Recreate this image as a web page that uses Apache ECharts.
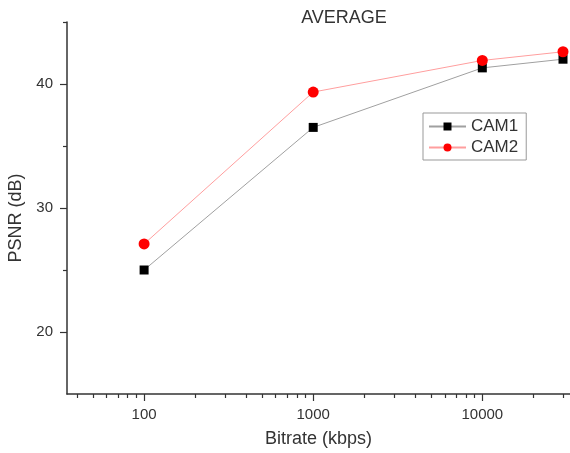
<!DOCTYPE html>
<html>
<head>
<meta charset="utf-8">
<title>AVERAGE</title>
<script src="https://cdn.jsdelivr.net/npm/echarts@6/dist/echarts.min.js"></script>
<style>
  html, body { margin: 0; padding: 0; background: #fff; }
  #chart { width: 570px; height: 453px; }
</style>
</head>
<body>
<div id="chart"></div>
<script>
  // bitrate in kbps, PSNR in dB
  const bitrates = [100, 1000, 10000, 30000];
  const cam1 = [25.0, 36.5, 41.3, 42.0];
  const cam2 = [27.1, 39.35, 41.9, 42.6];

  const xMinorTicks = [40, 50, 60, 70, 80, 90, 200, 300, 400, 500, 600, 700, 800, 900,
    2000, 3000, 4000, 5000, 6000, 7000, 8000, 9000, 20000, 30000];
  const yMajorTicks = [20, 30, 40];
  const yMinorTicks = [25, 35, 45];

  const xMin = 35;
  const xMax = 33000;
  const yMin = 15;
  const yMax = 45;

  const font = '"Liberation Sans", Arial, sans-serif';
  const axisColor = '#333';

  const chart = echarts.init(document.getElementById('chart'));

  const option = {
    animation: false,
    title: {
      text: 'AVERAGE',
      left: 339,
      top: 4,
      textAlign: 'center',
      textStyle: { fontFamily: font, fontSize: 18, fontWeight: 'normal', color: '#333' },
    },
    legend: {
      left: 423,
      top: 113,
      orient: 'vertical',
      padding: [5, 8, 4, 5],
      itemWidth: 37,
      itemHeight: 10,
      itemGap: 4,
      borderColor: '#999',
      borderWidth: 1,
      textStyle: { fontFamily: font, fontSize: 17, color: '#333' },
      data: ['CAM1', 'CAM2'],
    },
    grid: { left: 67, right: 0, top: 22, bottom: 59, outerBoundsMode: 'none' },
    xAxis: [
      {
        type: 'log',
        logBase: 10,
        min: xMin,
        max: xMax,
        name: 'Bitrate (kbps)',
        nameLocation: 'middle',
        nameGap: 36,
        nameTextStyle: { fontFamily: font, fontSize: 18, color: '#333' },
        axisLine: { lineStyle: { color: axisColor, width: 1.5 } },
        axisTick: { inside: false, length: 7, lineStyle: { color: axisColor, width: 1.2 } },
        axisLabel: {
          fontFamily: font,
          fontSize: 15,
          color: '#333',
          margin: 13,
          showMinLabel: false,
          showMaxLabel: false,
          formatter: v => String(Math.round(v)),
        },
        splitLine: { show: false },
      },
      {
        // minor ticks, placed in log10 space
        type: 'value',
        position: 'bottom',
        min: Math.log10(xMin),
        max: Math.log10(xMax),
        axisLine: { show: false },
        axisLabel: { show: false },
        axisTick: {
          length: 4,
          customValues: xMinorTicks.map(v => Math.log10(v)),
          lineStyle: { color: axisColor, width: 1.2 },
        },
        splitLine: { show: false },
      },
    ],
    yAxis: [
      {
        type: 'value',
        min: yMin,
        max: yMax,
        name: 'PSNR (dB)',
        nameLocation: 'middle',
        nameGap: 39,
        nameTextStyle: { fontFamily: font, fontSize: 18, color: '#333', padding: [0, 20, 0, 0] },
        axisLine: { show: true, lineStyle: { color: axisColor, width: 1.5 } },
        axisTick: {
          show: true,
          length: 7,
          customValues: yMajorTicks,
          lineStyle: { color: axisColor, width: 1.2 },
        },
        axisLabel: {
          fontFamily: font,
          fontSize: 15,
          color: '#333',
          margin: 14,
          customValues: yMajorTicks,
        },
        splitLine: { show: false },
      },
      {
        type: 'value',
        position: 'left',
        min: yMin,
        max: yMax,
        axisLine: { show: false },
        axisLabel: { show: false },
        axisTick: {
          show: true,
          length: 4,
          customValues: yMinorTicks,
          lineStyle: { color: axisColor, width: 1.2 },
        },
        splitLine: { show: false },
      },
    ],
    series: [
      {
        name: 'CAM1',
        type: 'line',
        data: bitrates.map((b, i) => [b, cam1[i]]),
        symbol: 'rect',
        symbolSize: 9,
        itemStyle: { color: '#000' },
        lineStyle: { color: '#a0a0a0', width: 1 },
        z: 3,
      },
      {
        name: 'CAM2',
        type: 'line',
        data: bitrates.map((b, i) => [b, cam2[i]]),
        symbol: 'circle',
        symbolSize: 11,
        itemStyle: { color: '#ff0000' },
        lineStyle: { color: '#ff9e9e', width: 1 },
        z: 4,
      },
    ],
  };

  chart.setOption(option);
</script>
</body>
</html>
